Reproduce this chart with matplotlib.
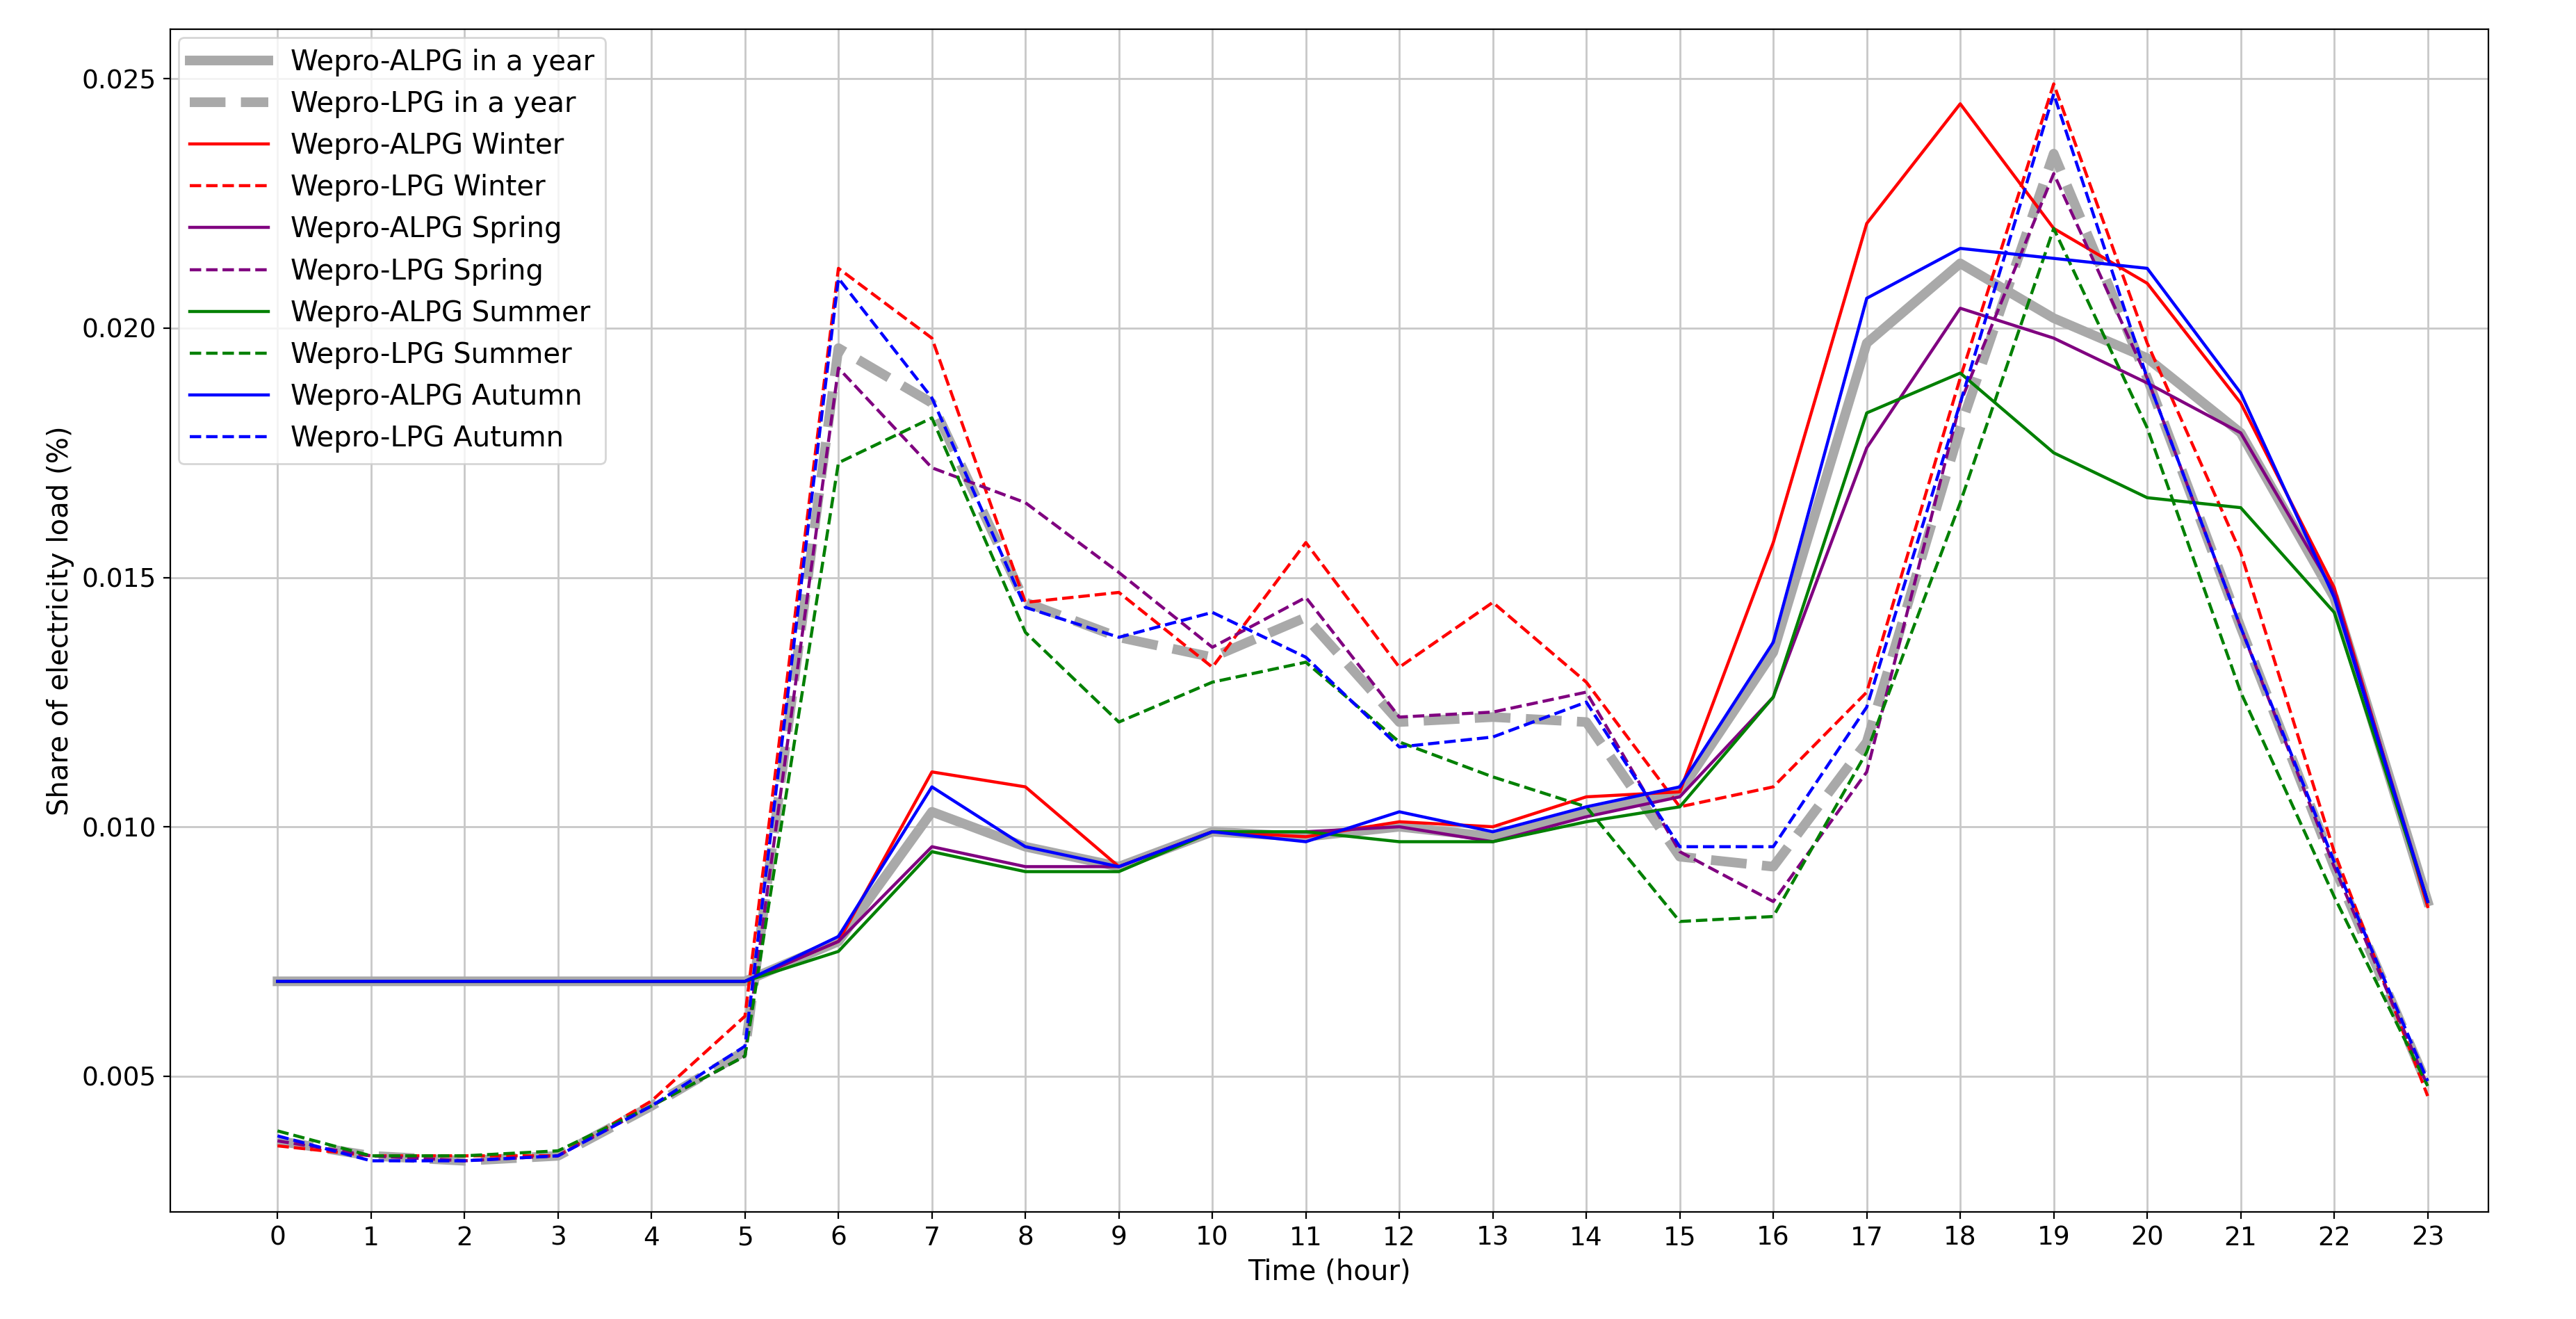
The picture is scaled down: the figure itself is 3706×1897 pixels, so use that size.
import matplotlib
matplotlib.use("Agg")
import matplotlib.pyplot as plt
import numpy as np

hours = list(range(24))

alpg_year = [0.0069]*6 + [0.0077, 0.0103, 0.0096, 0.0092, 0.0099, 0.0098, 0.0100, 0.0098, 0.0103, 0.0107,
                          0.0135, 0.0197, 0.0213, 0.0202, 0.0194, 0.0179, 0.0146, 0.0085]
lpg_year = [0.0037, 0.0034, 0.0033, 0.0034, 0.0044, 0.0055, 0.0196, 0.0185, 0.0145, 0.0138, 0.0134, 0.0142,
            0.0121, 0.0122, 0.0121, 0.0094, 0.0092, 0.0117, 0.0180, 0.0235, 0.0190, 0.0140, 0.0092, 0.0048]
alpg_winter = [0.0069]*6 + [0.0077, 0.0111, 0.0108, 0.0092, 0.0099, 0.0098, 0.0101, 0.0100, 0.0106, 0.0107,
                            0.0157, 0.0221, 0.0245, 0.0220, 0.0209, 0.0185, 0.0148, 0.0084]
lpg_winter = [0.0036, 0.0034, 0.0034, 0.0034, 0.0045, 0.0062, 0.0212, 0.0198, 0.0145, 0.0147, 0.0132, 0.0157,
              0.0132, 0.0145, 0.0129, 0.0104, 0.0108, 0.0127, 0.0190, 0.0249, 0.0197, 0.0155, 0.0095, 0.0046]
alpg_spring = [0.0069]*6 + [0.0077, 0.0096, 0.0092, 0.0092, 0.0099, 0.0099, 0.0100, 0.0097, 0.0102, 0.0106,
                            0.0126, 0.0176, 0.0204, 0.0198, 0.0189, 0.0179, 0.0147, 0.0085]
lpg_spring = [0.0037, 0.0034, 0.0033, 0.0034, 0.0044, 0.0054, 0.0192, 0.0172, 0.0165, 0.0151, 0.0136, 0.0146,
              0.0122, 0.0123, 0.0127, 0.0095, 0.0085, 0.0111, 0.0185, 0.0231, 0.0190, 0.0140, 0.0092, 0.0048]
alpg_summer = [0.0069]*6 + [0.0075, 0.0095, 0.0091, 0.0091, 0.0099, 0.0099, 0.0097, 0.0097, 0.0101, 0.0104,
                            0.0126, 0.0183, 0.0191, 0.0175, 0.0166, 0.0164, 0.0143, 0.0085]
lpg_summer = [0.0039, 0.0034, 0.0034, 0.0035, 0.0044, 0.0054, 0.0173, 0.0182, 0.0139, 0.0121, 0.0129, 0.0133,
              0.0117, 0.0110, 0.0104, 0.0081, 0.0082, 0.0115, 0.0165, 0.0220, 0.0180, 0.0127, 0.0086, 0.0048]
alpg_autumn = [0.0069]*6 + [0.0078, 0.0108, 0.0096, 0.0092, 0.0099, 0.0097, 0.0103, 0.0099, 0.0104, 0.0108,
                            0.0137, 0.0206, 0.0216, 0.0214, 0.0212, 0.0187, 0.0146, 0.0085]
lpg_autumn = [0.0038, 0.0033, 0.0033, 0.0034, 0.0044, 0.0056, 0.0210, 0.0186, 0.0144, 0.0138, 0.0143, 0.0134,
              0.0116, 0.0118, 0.0125, 0.0096, 0.0096, 0.0124, 0.0185, 0.0247, 0.0190, 0.0140, 0.0093, 0.0049]

fig = plt.figure(figsize=(18.53, 9.485), dpi=200)
ax = fig.add_axes([0.066, 0.081, 0.90, 0.897])

ax.plot(hours, alpg_year, color='darkgray', lw=5, label='Wepro-ALPG in a year')
ax.plot(hours, lpg_year, color='darkgray', lw=5, ls='--', label='Wepro-LPG in a year')
ax.plot(hours, alpg_winter, color='red', lw=1.6, label='Wepro-ALPG Winter')
ax.plot(hours, lpg_winter, color='red', lw=1.6, ls='--', label='Wepro-LPG Winter')
ax.plot(hours, alpg_spring, color='purple', lw=1.6, label='Wepro-ALPG Spring')
ax.plot(hours, lpg_spring, color='purple', lw=1.6, ls='--', label='Wepro-LPG Spring')
ax.plot(hours, alpg_summer, color='green', lw=1.6, label='Wepro-ALPG Summer')
ax.plot(hours, lpg_summer, color='green', lw=1.6, ls='--', label='Wepro-LPG Summer')
ax.plot(hours, alpg_autumn, color='blue', lw=1.6, label='Wepro-ALPG Autumn')
ax.plot(hours, lpg_autumn, color='blue', lw=1.6, ls='--', label='Wepro-LPG Autumn')

ax.set_xlim(-1.15, 23.65)
ax.set_ylim(0.00227, 0.026)
ax.set_xticks(hours)
ax.set_yticks([0.005, 0.010, 0.015, 0.020, 0.025])
ax.tick_params(labelsize=13.5)
ax.grid(True, color='#c8c8c8', lw=1)
ax.set_xlabel('Time (hour)', fontsize=14.5)
ax.set_ylabel('Share of electricity load (%)', fontsize=14.5)
ax.legend(loc='upper left', fontsize=14.5, handlelength=2.8, borderaxespad=0.3)

fig.savefig('out.png', dpi=200)
